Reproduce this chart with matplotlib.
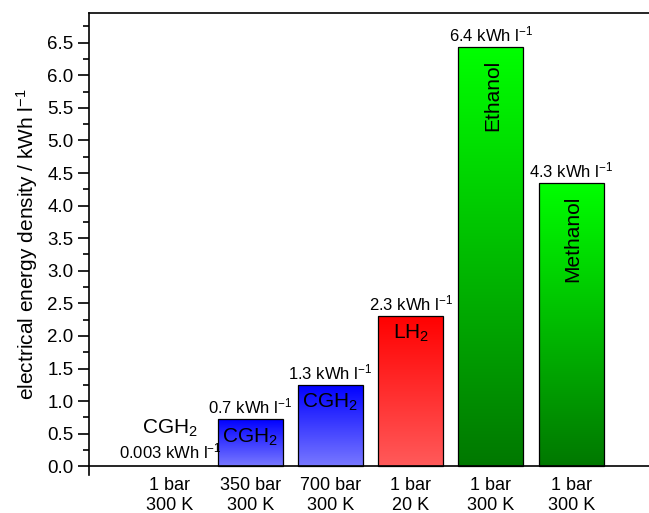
import numpy as np
import matplotlib
matplotlib.use("Agg")
import matplotlib.pyplot as plt
from matplotlib.colors import LinearSegmentedColormap

plt.rcParams["font.family"] = ["Liberation Sans", "DejaVu Sans"]
plt.rcParams["mathtext.default"] = "regular"

# data
conditions = ["1 bar\n300 K", "350 bar\n300 K", "700 bar\n300 K",
              "1 bar\n20 K", "1 bar\n300 K", "1 bar\n300 K"]
densities = [0.003, 0.72, 1.25, 2.31, 6.43, 4.35]
value_labels = ["0.003", "0.7", "1.3", "2.3", "6.4", "4.3"]
fuel_names = ["CGH$_2$", "CGH$_2$", "CGH$_2$", "LH$_2$", "Ethanol", "Methanol"]

# (top colour, bottom colour) of each bar gradient
gradients = [
    ("#0000ff", "#7878ff"),
    ("#0000ff", "#7878ff"),
    ("#0000ff", "#7878ff"),
    ("#ff0000", "#ff5a5a"),
    ("#00ff00", "#007800"),
    ("#00ff00", "#007800"),
]

BAR_WIDTH = 0.81


def gradient_bar(ax, bar, top, bottom):
    x0, y0 = bar.get_x(), bar.get_y()
    w, h = bar.get_width(), bar.get_height()
    cmap = LinearSegmentedColormap.from_list("g", [bottom, top])
    img = ax.imshow(np.linspace(0, 1, 256).reshape(-1, 1), cmap=cmap,
                    extent=[x0, x0 + w, y0, y0 + h], origin="lower",
                    aspect="auto", zorder=2, interpolation="bilinear")
    img.set_clip_path(bar)


def main():
    fig = plt.figure(figsize=(6.49, 5.13), dpi=100)
    ax = fig.add_axes([0.137, 0.0733, 0.863, 0.9007])

    x = np.arange(len(densities))
    bars = ax.bar(x, densities, width=BAR_WIDTH, facecolor="none",
                  edgecolor="black", linewidth=0.9, zorder=3)
    for i, bar in enumerate(bars):
        if densities[i] > 0.01:
            gradient_bar(ax, bar, *gradients[i])
        else:
            bar.set_linewidth(0)

    ax.set_xlim(-1.01, 5.97)
    ax.set_ylim(-0.14, 6.95)

    # value labels above the bars
    for i in range(1, len(densities)):
        ax.annotate(f"{value_labels[i]} kWh l$^{{-1}}$", (x[i], densities[i]),
                    xytext=(0, 2), textcoords="offset points",
                    ha="center", va="bottom", fontsize=12, zorder=4)

    # first (almost empty) bar
    ax.text(x[0], 0.58, fuel_names[0], ha="center", va="center", fontsize=15)
    ax.text(x[0], 0.22, f"{value_labels[0]} kWh l$^{{-1}}$", ha="center",
            va="center", fontsize=12)

    # names inside the bars
    for i in (1, 2, 3):
        ax.annotate(fuel_names[i], (x[i], densities[i]), xytext=(0, -5),
                    textcoords="offset points", ha="center", va="top",
                    fontsize=15, zorder=4)
    for i in (4, 5):
        ax.annotate(fuel_names[i], (x[i], densities[i]), xytext=(1, -9),
                    textcoords="offset points", ha="center", va="top",
                    rotation=90, fontsize=15, zorder=4)

    ax.spines["bottom"].set_position(("data", 0))
    ax.spines["right"].set_visible(False)
    for s in ax.spines.values():
        s.set_linewidth(1.2)

    ax.set_xticks(x)
    ax.set_xticklabels(conditions, fontsize=13, linespacing=1.2)
    ax.tick_params(axis="x", length=0, pad=8)

    ax.set_yticks(np.arange(0, 6.51, 0.5))
    ax.set_yticks(np.arange(0.25, 6.9, 0.5), minor=True)
    ax.yaxis.set_major_formatter(matplotlib.ticker.FormatStrFormatter("%.1f"))
    ax.tick_params(axis="y", which="major", direction="out", length=8,
                   width=1.2, labelsize=13.5, pad=3)
    ax.tick_params(axis="y", which="minor", direction="out", length=4.5,
                   width=1.2)

    ax.set_ylabel("electrical energy density / kWh l$^{-1}$", fontsize=15,
                  labelpad=5)

    fig.savefig("out.png", dpi=100)
    plt.close(fig)


if __name__ == "__main__":
    main()
